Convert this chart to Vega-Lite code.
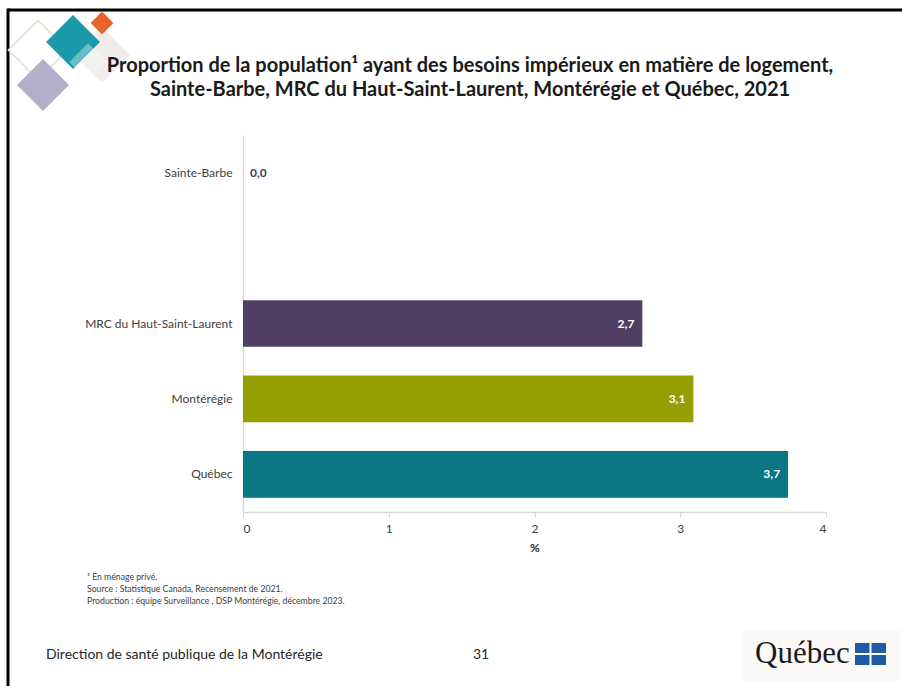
{
  "$schema": "https://vega.github.io/schema/vega-lite/v6.json",
  "autosize": {"type": "none"},
  "width": 583,
  "height": 377,
  "padding": {"left": 243, "top": 135, "right": 76, "bottom": 174},
  "background": "white",
  "config": {
    "view": {"stroke": null},
    "font": "Lato",
    "locale": {"number": {"decimal": ",", "thousands": " ", "grouping": [3], "currency": ["", " $"]}}
  },
  "datasets": {
    "bars": [
      {"region": "Sainte-Barbe", "value": 0.0},
      {"region": "MRC du Haut-Saint-Laurent", "value": 2.74},
      {"region": "Montérégie", "value": 3.09},
      {"region": "Québec", "value": 3.74}
    ],
    "one": [{"k": 1}]
  },
  "layer": [
    {
      "data": {"name": "bars"},
      "mark": {"type": "bar"},
      "encoding": {
        "y": {
          "field": "region", "type": "nominal",
          "scale": {"domain": ["Sainte-Barbe", " ", "MRC du Haut-Saint-Laurent", "Montérégie", "Québec"], "paddingInner": 0.38, "paddingOuter": 0.19},
          "axis": {"title": null, "ticks": false, "domainColor": "#d9d9d9", "domainWidth": 1.5, "labelFont": "Lato", "labelFontSize": 12, "labelColor": "#404040", "labelPadding": 11}
        },
        "x": {
          "field": "value", "type": "quantitative",
          "scale": {"domain": [0, 4]},
          "axis": {"title": "%", "titleFont": "Lato", "titleFontSize": 12, "titleFontWeight": "bold", "titleColor": "#262626", "titlePadding": 8, "values": [0, 1, 2, 3, 4], "format": "d", "grid": false, "domainColor": "#d9d9d9", "domainWidth": 1.5, "tickColor": "#d9d9d9", "tickSize": 5, "labelFont": "Lato", "labelFontSize": 12, "labelColor": "#404040", "labelPadding": 6}
        },
        "color": {
          "field": "region", "type": "nominal", "legend": null,
          "scale": {"domain": ["Sainte-Barbe", "MRC du Haut-Saint-Laurent", "Montérégie", "Québec"], "range": ["#4f3f63", "#4f3f63", "#95a000", "#087683"]}
        }
      }
    },
    {
      "data": {"name": "bars"},
      "transform": [{"filter": "datum.value > 0"}],
      "mark": {"type": "text", "align": "right", "dx": -8, "font": "Lato", "fontSize": 12, "fontWeight": "bold", "color": "white"},
      "encoding": {
        "y": {"field": "region", "type": "nominal"},
        "x": {"field": "value", "type": "quantitative"},
        "text": {"field": "value", "type": "quantitative", "format": ".1f"}
      }
    },
    {
      "data": {"name": "bars"},
      "transform": [{"filter": "datum.value <= 0"}],
      "mark": {"type": "text", "align": "left", "dx": 7, "font": "Lato", "fontSize": 12, "fontWeight": "bold", "color": "#3f3a5e"},
      "encoding": {
        "y": {"field": "region", "type": "nominal"},
        "x": {"field": "value", "type": "quantitative"},
        "text": {"field": "value", "type": "quantitative", "format": ".1f"}
      }
    },
    {
      "data": {"name": "one"},
      "mark": {"type": "rect", "x": -235, "x2": 659, "y": -126.5, "y2": -123.5, "color": "black"},
      "encoding": {}
    },
    {
      "data": {"name": "one"},
      "mark": {"type": "rect", "x": -236.5, "x2": -233.5, "y": -126.5, "y2": 551, "color": "black"},
      "encoding": {}
    },
    {
      "data": {"name": "one"},
      "mark": {"type": "point", "shape": "square", "angle": 45, "x": -205, "y": -85, "size": 1750, "filled": false, "stroke": "#dfe2d3", "strokeWidth": 1.5, "opacity": 1},
      "encoding": {}
    },
    {
      "data": {"name": "one"},
      "mark": {"type": "point", "shape": "square", "angle": 45, "x": -200, "y": -50, "size": 1350, "filled": true, "color": "#b4afc9", "opacity": 1},
      "encoding": {}
    },
    {
      "data": {"name": "one"},
      "mark": {"type": "point", "shape": "square", "angle": 45, "x": -141, "y": -80, "size": 1550, "filled": true, "color": "#efecea", "opacity": 1},
      "encoding": {}
    },
    {
      "data": {"name": "one"},
      "mark": {"type": "point", "shape": "square", "angle": 45, "x": -170, "y": -93, "size": 1450, "filled": true, "color": "#1a9aa8", "opacity": 1},
      "encoding": {}
    },
    {
      "data": {"name": "one"},
      "mark": {"type": "point", "shape": "square", "angle": 45, "x": -155, "y": -73, "size": 700, "filled": true, "color": "#ffffff", "opacity": 0.35},
      "encoding": {}
    },
    {
      "data": {"name": "one"},
      "mark": {"type": "point", "shape": "square", "angle": 45, "x": -141, "y": -112, "size": 260, "filled": true, "color": "#e8642a", "opacity": 1},
      "encoding": {}
    },
    {
      "data": {"name": "one"},
      "mark": {"type": "text", "x": 227, "y": -69, "align": "center", "baseline": "middle", "lineHeight": 24, "font": "Lato", "fontSize": 20, "fontWeight": "bold", "color": "#1a1a1a",
        "text": ["Proportion de la population¹ ayant des besoins impérieux en matière de logement,", "Sainte-Barbe, MRC du Haut-Saint-Laurent, Montérégie et Québec, 2021"]},
      "encoding": {}
    },
    {
      "data": {"name": "one"},
      "mark": {"type": "text", "x": -156, "y": 438, "align": "left", "baseline": "top", "lineHeight": 12, "font": "Lato", "fontSize": 8.7, "color": "#404040",
        "text": ["¹ En ménage privé.", "Source : Statistique Canada, Recensement de 2021.", "Production : équipe Surveillance , DSP Montérégie, décembre 2023."]},
      "encoding": {}
    },
    {
      "data": {"name": "one"},
      "mark": {"type": "text", "x": -197, "y": 520, "align": "left", "baseline": "middle", "font": "Liberation Sans Narrow, Lato", "fontSize": 14, "color": "#262626", "text": "Direction de santé publique de la Montérégie"},
      "encoding": {}
    },
    {
      "data": {"name": "one"},
      "mark": {"type": "text", "x": 238, "y": 520, "align": "center", "baseline": "middle", "font": "Liberation Sans Narrow, Lato", "fontSize": 14, "color": "#262626", "text": "31"},
      "encoding": {}
    },
    {
      "data": {"name": "one"},
      "mark": {"type": "rect", "x": 500, "x2": 657, "y": 495, "y2": 546, "color": "#fbfaf8"},
      "encoding": {}
    },
    {
      "data": {"name": "one"},
      "mark": {"type": "text", "x": 512, "y": 528, "align": "left", "baseline": "alphabetic", "font": "Liberation Serif", "fontSize": 31, "color": "#1a1a1a", "text": "Québec"},
      "encoding": {}
    },
    {
      "data": {"name": "one"},
      "mark": {"type": "rect", "x": 612, "x2": 643, "y": 508, "y2": 530, "color": "#1f5aa6"},
      "encoding": {}
    },
    {
      "data": {"name": "one"},
      "mark": {"type": "rect", "x": 626.5, "x2": 628.5, "y": 508, "y2": 530, "color": "white"},
      "encoding": {}
    },
    {
      "data": {"name": "one"},
      "mark": {"type": "rect", "x": 612, "x2": 643, "y": 518, "y2": 520, "color": "white"},
      "encoding": {}
    }
  ]
}
